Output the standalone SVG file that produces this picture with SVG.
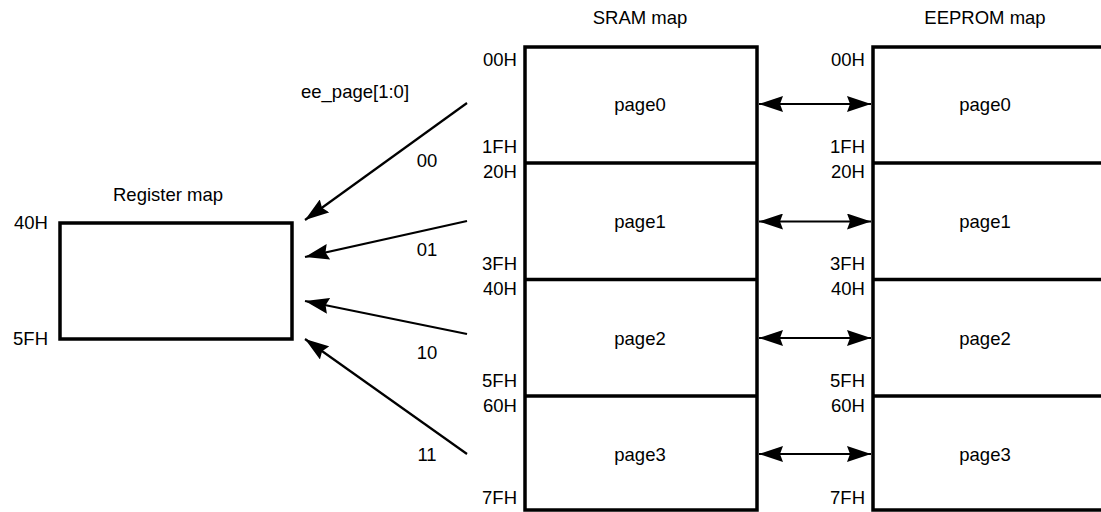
<svg xmlns="http://www.w3.org/2000/svg" width="1101" height="512" viewBox="0 0 1101 512">
<style>
text{font-family:"Liberation Sans",Arial,sans-serif;font-size:18.5px;fill:#000}
.r{text-anchor:end}
.m{text-anchor:middle}
.box{fill:#fff;stroke:#000;stroke-width:3.5}
.div{stroke:#000;stroke-width:3.5}
.arr{stroke:#000;stroke-width:2.2;fill:none}
</style>
<defs>
<marker id="ah" viewBox="0 0 24 16" refX="24" refY="8" markerWidth="24" markerHeight="16" markerUnits="userSpaceOnUse" orient="auto-start-reverse">
<path d="M0,0 L24,8 L0,16 L3,8 z" fill="#000"/>
</marker>
</defs>
<rect width="1101" height="512" fill="#fff"/>
<g id="register">
<text class="m" x="168" y="201">Register map</text>
<rect class="box" x="60" y="223" width="232" height="116"/>
<text class="r" x="48" y="229">40H</text>
<text class="r" x="48" y="345">5FH</text>
</g>
<g id="sram">
<text class="m" x="640" y="24">SRAM map</text>
<rect class="box" x="525" y="47" width="232" height="463"/>
<line class="div" x1="525" y1="163" x2="757" y2="163"/>
<line class="div" x1="525" y1="279.5" x2="757" y2="279.5"/>
<line class="div" x1="525" y1="396" x2="757" y2="396"/>
<text class="m" x="640" y="111">page0</text>
<text class="m" x="640" y="228">page1</text>
<text class="m" x="640" y="345">page2</text>
<text class="m" x="640" y="461">page3</text>
<text class="r" x="517" y="66">00H</text>
<text class="r" x="517" y="153">1FH</text>
<text class="r" x="517" y="178">20H</text>
<text class="r" x="517" y="270">3FH</text>
<text class="r" x="517" y="295">40H</text>
<text class="r" x="517" y="387">5FH</text>
<text class="r" x="517" y="412">60H</text>
<text class="r" x="517" y="504">7FH</text>
</g>
<g id="eeprom">
<text class="m" x="985" y="24">EEPROM map</text>
<rect class="box" x="873" y="47" width="240" height="463"/>
<line class="div" x1="873" y1="163" x2="1105" y2="163"/>
<line class="div" x1="873" y1="279.5" x2="1105" y2="279.5"/>
<line class="div" x1="873" y1="396" x2="1105" y2="396"/>
<text class="m" x="985" y="111">page0</text>
<text class="m" x="985" y="228">page1</text>
<text class="m" x="985" y="345">page2</text>
<text class="m" x="985" y="461">page3</text>
<text class="r" x="865" y="66">00H</text>
<text class="r" x="865" y="153">1FH</text>
<text class="r" x="865" y="178">20H</text>
<text class="r" x="865" y="270">3FH</text>
<text class="r" x="865" y="295">40H</text>
<text class="r" x="865" y="387">5FH</text>
<text class="r" x="865" y="412">60H</text>
<text class="r" x="865" y="504">7FH</text>
</g>
<g id="connectors">
<text x="301" y="98">ee_page[1:0]</text>
<line class="arr" x1="467" y1="103" x2="305" y2="220" marker-end="url(#ah)"/>
<line class="arr" x1="467" y1="221" x2="305" y2="257" marker-end="url(#ah)"/>
<line class="arr" x1="467" y1="334" x2="305" y2="301" marker-end="url(#ah)"/>
<line class="arr" x1="467" y1="454" x2="305" y2="339" marker-end="url(#ah)"/>
<text class="m" x="427" y="167">00</text>
<text class="m" x="427" y="256">01</text>
<text class="m" x="427" y="359">10</text>
<text class="m" x="427" y="461">11</text>
<line class="arr" x1="759" y1="104" x2="871" y2="104" stroke-width="3" marker-start="url(#ah)" marker-end="url(#ah)"/>
<line class="arr" x1="759" y1="221.5" x2="871" y2="221.5" marker-start="url(#ah)" marker-end="url(#ah)"/>
<line class="arr" x1="759" y1="338" x2="871" y2="338" marker-start="url(#ah)" marker-end="url(#ah)"/>
<line class="arr" x1="759" y1="454" x2="871" y2="454" marker-start="url(#ah)" marker-end="url(#ah)"/>
</g>
</svg>
